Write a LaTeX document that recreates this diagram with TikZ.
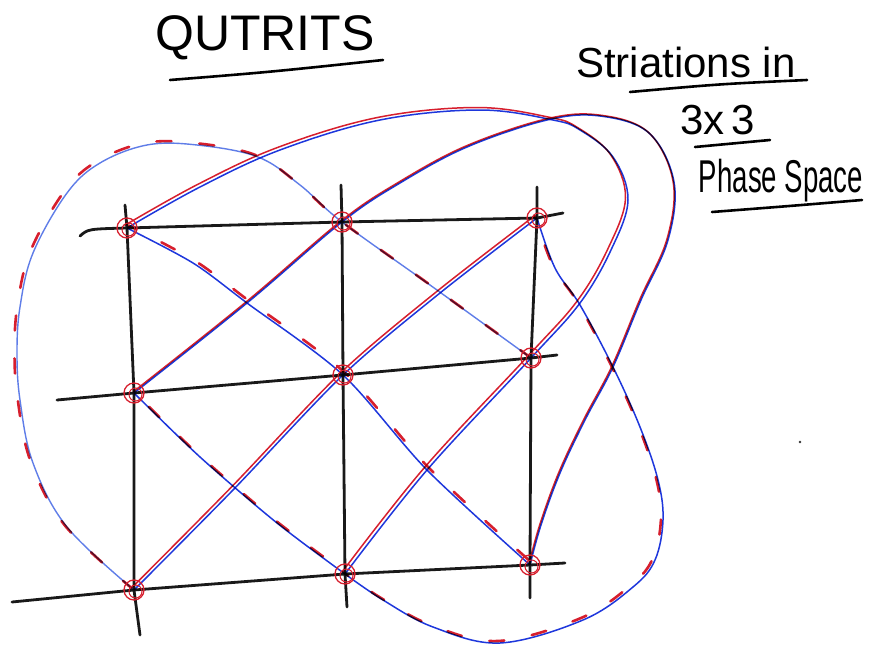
\documentclass[tikz,border=0pt]{standalone}
\usepackage{fontspec}
\setmainfont{Liberation Sans}
\definecolor{pb}{RGB}{30,55,220}
\definecolor{pbl}{RGB}{95,125,232}
\definecolor{pr}{RGB}{215,30,45}
\begin{document}
\begin{tikzpicture}[x=1pt,y=-1pt,
  gridln/.style={line width=2.8pt, line cap=round, line join=round, black!90},
  bl/.style={draw=pb, line width=1.5pt},
  bll/.style={draw=pbl, line width=1.4pt},
  rd/.style={draw=pr, line width=1.5pt},
  rdash/.style={draw=pr, line width=2.6pt, dash pattern=on 15pt off 28pt, line cap=round},
  ring/.style={circle, draw=pr, line width=1.3pt, minimum size=20pt, inner sep=0pt},
  uline/.style={line width=2.6pt, line cap=round},
  lbl/.style={inner sep=0pt, anchor=center}]
\useasboundingbox (0,0) rectangle (876,645);
\fill[white] (0,0) rectangle (876,645);
% grid points
\coordinate (TL) at (127,228); \coordinate (TM) at (342,222); \coordinate (TR) at (537,218);
\coordinate (ML) at (134,393); \coordinate (C)  at (343,375); \coordinate (MR) at (531,358);
\coordinate (BL) at (134,590); \coordinate (BM) at (345,574); \coordinate (BR) at (530,565);
% grid line ends
\coordinate (h1a) at (80,236); \coordinate (h1b) at (563,213);
\coordinate (h2a) at (57,400); \coordinate (h2b) at (557,355);
\coordinate (h3a) at (12,602); \coordinate (h3b) at (565,563);
\coordinate (v1a) at (125,205); \coordinate (v1b) at (140,635);
\coordinate (v2a) at (341,185); \coordinate (v2b) at (347,607);
\coordinate (v3a) at (537,187); \coordinate (v3b) at (530,598);
% grid
\draw[gridln] (h1a) .. controls (88,229) .. (TL) -- (TM) -- (TR) -- (h1b);
\draw[gridln] (h2a) -- (ML) -- (C) -- (MR) -- (h2b);
\draw[gridln] (h3a) -- (BL) -- (BM) -- (BR) -- (h3b);
\draw[gridln] (v1a) -- (TL) -- (ML) -- (BL) -- (v1b);
\draw[gridln] (v2a) -- (TM) -- (C) -- (BM) -- (v2b);
\draw[gridln] (v3a) -- (TR) -- (MR) -- (BR) -- (v3b);
% curves
\def\sA{plot[smooth,tension=0.5] coordinates {(TL) (193,263) (247,303) (C) (427,470) (BR)}}
\def\sB{plot[smooth,tension=0.5] coordinates {(BL) (233,490) (C) (440,293) (TR)}}
\def\sC{plot[smooth,tension=0.6] coordinates {(ML) (247,303) (TM) (400,183) (467,147) (547,120) (600,116) (649,133) (674,182) (668,240) (641,300) (613,367) (585,420) (560,473) (541,525) (BR)}}
\def\sD{plot[smooth,tension=0.5] coordinates {(ML) (200,457) (277,523) (BM)}}
\def\sE{plot[smooth,tension=0.6] coordinates {(BM) (427,470) (MR) (580,303) (611,250) (628,200) (613,157) (580,130) (553,120) (480,110) (380,120) (280,150) (200,187) (TL)}}
\def\sF{plot[smooth,tension=0.6] coordinates {(BL) (67,527) (33,463) (20,400) (17,353) (20,307) (33,253) (67,193) (100,163) (147,145) (197,145) (258,157) (300,185) (TM) (430,285) (MR)}}
\def\sG{plot[smooth,tension=0.6] coordinates {(TR) (555,268) (580,305) (613,367) (640,427) (658,480) (663,520) (655,560) (633,587) (583,620) (500,643) (433,627) (383,600) (BM)}}
\begin{scope}[blend mode=multiply]
\draw[bl] \sA; \draw[rdash, dash phase=6pt, transform canvas={xshift=1.5pt,yshift=2.5pt}] \sA;
\draw[bl] \sB; \draw[rd, transform canvas={xshift=-2pt,yshift=2.5pt}] \sB;
\draw[bl] \sC; \draw[rd, transform canvas={xshift=-1pt,yshift=1pt}] \sC;
\draw[bl] \sD; \draw[rdash, dash phase=20pt, transform canvas={xshift=-1.5pt,yshift=2.5pt}] \sD;
\draw[bl] \sE; \draw[rd, transform canvas={xshift=-2.5pt,yshift=2.5pt}] \sE;
\draw[bll] \sF; \draw[rdash, dash phase=4pt, transform canvas={xshift=-2.5pt,yshift=2pt}] \sF;
\draw[bl] \sG; \draw[rdash, dash phase=12pt, transform canvas={xshift=-2pt,yshift=2pt}] \sG;
\end{scope}
% rings at grid points
\foreach \p in {TL,TM,TR,ML,C,MR,BL,BM,BR}{
  \node[ring] (r\p) at (\p) {};
  \draw[pr, line width=1pt] ([shift={(1.5pt,-1.5pt)}]\p) circle (6.5pt);
}
% texts
\node[lbl, font=\fontsize{50}{50}\selectfont] (qt) at (265,38) {QUTRITS};
\coordinate (q1) at (170,80); \coordinate (q2) at (383,60);
\draw[uline] (q1) .. controls (270,72) .. (q2);
\node[lbl, font=\fontsize{42}{42}\selectfont] (st) at (686,62) {Striations in};
\coordinate (s1) at (630,92); \coordinate (s2) at (807,80);
\draw[uline] (s1) .. controls (720,84) .. (s2);
\node[lbl, font=\fontsize{42}{42}\selectfont] (tx) at (718,120) {3x\,3};
\coordinate (t1) at (695,147); \coordinate (t2) at (770,140);
\draw[uline] (t1) -- (t2);
\node[lbl, font=\fontsize{46}{46}\selectfont] (ps) at (781,181) {\scalebox{0.6}[1]{Phase Space}};
\coordinate (p1) at (712,212); \coordinate (p2) at (862,200);
\draw[uline] (p1) .. controls (790,206) .. (p2);
\fill[black!80] (800,442) circle (1.3pt);
\end{tikzpicture}
\end{document}
